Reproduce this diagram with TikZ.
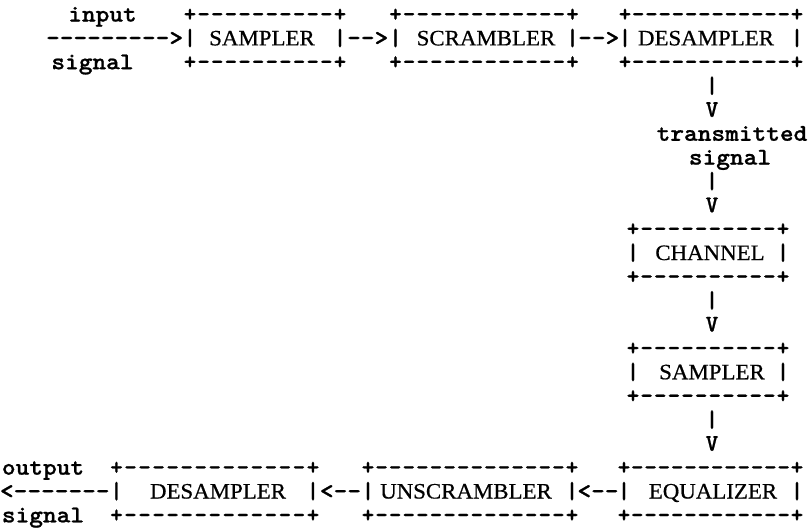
\documentclass[tikz,border=0pt]{standalone}
\usepackage{fontspec}
\usepackage{graphicx}
\setmainfont{Liberation Serif}
\newfontfamily\labelfont{Liberation Serif}[FakeBold=0.6]
\newfontfamily\typewriter{lmmonolt10-bold.otf}[FakeBold=0.9]
\usetikzlibrary{calc}

% a typed hyphen that never merges with its neighbour into a dash
\newcommand{\hy}{-\kern0pt}
% typed text, widened to the 13.7pt typewriter pitch
\newcommand{\typed}[1]{\scalebox{1.087}[1]{#1}}

\tikzset{
  tt/.style={font=\typewriter\fontsize{24}{24}\selectfont, inner sep=0pt, anchor=base},
  lbl/.style={font=\labelfont\fontsize{22}{24}\selectfont, inner sep=0pt, anchor=base},
}

% \asciibox{name}{centre x}{half width}{top row}{hyphens per edge}{label}{label x}
\newcommand{\asciibox}[7]{%
  \node[tt] (#1-tl) at ({#2-#3},#4) {+};
  \node[tt] (#1-tr) at ({#2+#3},#4) {+};
  \node[tt] (#1-l)  at ({#2-#3},#4+1) {|};
  \node[tt] (#1-r)  at ({#2+#3},#4+1) {|};
  \node[tt] (#1-bl) at ({#2-#3},#4+2) {+};
  \node[tt] (#1-br) at ({#2+#3},#4+2) {+};
  \foreach \k in {1,...,#5}{
    \node[tt] at ({#2-#3+\k*2*#3/(#5+1)},#4) {-};
    \node[tt] at ({#2-#3+\k*2*#3/(#5+1)},#4+2) {-};
  }
  \node[lbl] (#1) at (#7,#4+1) {\scalebox{1.04}[1]{#6}};
}

\begin{document}
\begin{tikzpicture}[x=1pt,y=1pt]
\fill[white] (0,0) rectangle (809,-530);
\path[use as bounding box] (0,0) rectangle (809,-530);
\begin{scope}[y=-23.85pt, yshift=-21.5pt]
  % transmitter chain
  \asciibox{smp}{265}{75}{0}{10}{SAMPLER}{262}
  \asciibox{scr}{484}{88.5}{0}{12}{SCRAMBLER}{486}
  \asciibox{dsa}{711}{86}{0}{12}{DESAMPLER}{706}
  \node[tt] (in)    at (102.5,0) {\typed{input}};
  \node[tt] (inarr) at (114.6,1) {\typed{\hy\hy\hy\hy\hy\hy\hy\hy\hy>}};
  \node[tt] (insig) at (92.5,2) {\typed{signal}};
  \node[tt] (a1) at ($(smp-r.base)!.5!(scr-l.base)$) {\typed{\hy\hy>}};
  \node[tt] (a2) at ($(scr-r.base)!.5!(dsa-l.base)$) {\typed{\hy\hy>}};

  % down through the channel
  \node[tt] (v1) at (712,3) {|};
  \node[tt] (v2) at (712,4) {V};
  \node[tt] (tx)  at (732,5) {\typed{transmitted}};
  \node[tt] (txs) at (730,6) {\typed{signal}};
  \node[tt] (v3) at (712,7) {|};
  \node[tt] (v4) at (712,8) {V};
  \asciibox{chn}{708}{75}{9}{10}{CHANNEL}{710}
  \node[tt] (v5) at (712,12) {|};
  \node[tt] (v6) at (712,13) {V};
  \asciibox{smr}{708}{75}{14}{10}{SAMPLER}{712}
  \node[tt] (v7) at (712,17) {|};
  \node[tt] (v8) at (712,18) {V};

  % receiver chain
  \asciibox{equ}{710.5}{86.5}{19}{12}{EQUALIZER}{713}
  \asciibox{uns}{470}{102}{19}{14}{UNSCRAMBLER}{466}
  \asciibox{dsb}{214.75}{98.25}{19}{13}{DESAMPLER}{218}
  \node[tt] (b1) at ($(uns-r.base)!.5!(equ-l.base)$) {\typed{<\hy\hy}};
  \node[tt] (b2) at ($(dsb-r.base)!.5!(uns-l.base)$) {\typed{<\hy\hy}};
  \node[tt] (out)    at (43,19) {\typed{output}};
  \node[tt] (outarr) at (54.8,20) {\typed{<\hy\hy\hy\hy\hy\hy\hy}};
  \node[tt] (outsig) at (43,21) {\typed{signal}};
\end{scope}
\end{tikzpicture}
\end{document}
